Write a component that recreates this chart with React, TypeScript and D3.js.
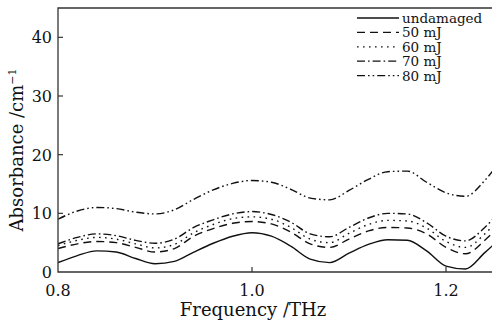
import { useEffect, useRef } from "react";
import * as d3 from "d3";

// frequency samples (THz)
const freq = [0.8, 0.82, 0.84, 0.86, 0.88, 0.9, 0.92, 0.94, 0.96, 0.98, 1.0, 1.02, 1.04, 1.06, 1.08, 1.1, 1.12, 1.14, 1.16, 1.18, 1.2, 1.22, 1.24, 1.25];

const undamaged = [1.6, 2.8, 3.6, 3.4, 2.3, 1.4, 1.8, 3.4, 4.9, 6.1, 6.7, 6.1, 4.4, 2.2, 1.6, 3.2, 4.7, 5.5, 5.4, 3.6, 1.0, 0.5, 3.3, 4.8];
const mj50 = [4.0, 4.8, 5.2, 5.0, 4.2, 3.4, 4.0, 6.1, 7.4, 8.3, 8.6, 8.2, 6.8, 4.8, 4.2, 5.6, 7.0, 7.6, 7.5, 6.5, 4.2, 3.1, 5.4, 7.0];
const mj60 = [4.5, 5.4, 5.9, 5.6, 4.8, 4.1, 4.7, 6.7, 8.1, 9.1, 9.4, 9.0, 7.6, 5.6, 5.0, 6.6, 8.1, 8.8, 8.7, 7.5, 5.2, 4.2, 6.5, 8.2];
const mj70 = [4.8, 5.9, 6.5, 6.2, 5.4, 4.9, 5.6, 7.6, 8.9, 9.9, 10.3, 9.8, 8.5, 6.5, 6.0, 7.6, 9.2, 10.0, 9.9, 8.4, 6.1, 5.3, 7.6, 9.3];
const mj80 = [9.0, 10.4, 11.0, 10.8, 10.2, 9.9, 10.6, 12.4, 14.0, 15.1, 15.6, 15.3, 14.1, 12.6, 12.3, 13.9, 15.8, 17.1, 17.2, 15.3, 13.5, 12.9, 15.6, 17.6];

const seriesNames = ["undamaged", "50 mJ", "60 mJ", "70 mJ", "80 mJ"];
const seriesValues = [undamaged, mj50, mj60, mj70, mj80];
const dashes = ["none", "8,5", "1.6,4.4", "8,3,1.6,3", "8,3,1.6,3,1.6,3"];

const xTicks = [0.8, 1.0, 1.2];
const yTicks = [0, 10, 20, 30, 40];

const W = 492;
const H = 327;
const FONT = "'DejaVu Serif', serif";

export default function App() {
  const ref = useRef<SVGSVGElement>(null);

  useEffect(() => {
    const svg = d3.select(ref.current);
    svg.selectAll("*").remove();

    const margin = { top: 8, right: 0, bottom: 55, left: 58 };
    const x = d3.scaleLinear().domain([0.8, 1.2]).range([margin.left, 446]);
    const y = d3.scaleLinear().domain([0, 45]).range([H - margin.bottom, margin.top]);

    svg.append("defs").append("clipPath").attr("id", "plot")
      .append("rect")
      .attr("x", margin.left).attr("y", margin.top)
      .attr("width", W - margin.left).attr("height", H - margin.bottom - margin.top);

    // lines
    const line = d3.line<number>()
      .x((_, i) => x(freq[i]))
      .y((d) => y(d))
      .curve(d3.curveMonotoneX);

    const g = svg.append("g").attr("clip-path", "url(#plot)");
    seriesValues.forEach((vals, i) => {
      g.append("path")
        .datum(vals)
        .attr("d", line)
        .attr("fill", "none")
        .attr("stroke", "#111")
        .attr("stroke-width", 1.4)
        .attr("stroke-dasharray", dashes[i]);
    });

    // frame
    const x0 = margin.left;
    const yb = H - margin.bottom;
    svg.append("path")
      .attr("d", `M${W},${margin.top}H${x0}V${yb}H${W}`)
      .attr("fill", "none")
      .attr("stroke", "#333")
      .attr("stroke-width", 1.3);

    // y ticks (inward)
    svg.selectAll("line.yt").data(yTicks.filter((t) => t > 0)).enter()
      .append("line")
      .attr("x1", x0).attr("x2", x0 + 5)
      .attr("y1", (d) => y(d)).attr("y2", (d) => y(d))
      .attr("stroke", "#333").attr("stroke-width", 1.2);

    svg.selectAll("text.yl").data(yTicks).enter()
      .append("text")
      .attr("x", x0 - 6)
      .attr("y", (d) => y(d) + 6)
      .attr("text-anchor", "end")
      .attr("font-family", FONT)
      .attr("font-size", 16)
      .attr("fill", "#111")
      .text((d) => d);

    // x ticks (inward)
    svg.selectAll("line.xt").data(xTicks.filter((t) => t > 0.8)).enter()
      .append("line")
      .attr("x1", (d) => x(d)).attr("x2", (d) => x(d))
      .attr("y1", yb).attr("y2", yb - 5)
      .attr("stroke", "#333").attr("stroke-width", 1.2);

    svg.selectAll("text.xl").data(xTicks).enter()
      .append("text")
      .attr("x", (d) => x(d))
      .attr("y", 296)
      .attr("text-anchor", "middle")
      .attr("font-family", FONT)
      .attr("font-size", 16)
      .attr("fill", "#111")
      .text((d) => d.toFixed(1));

    // axis titles
    svg.append("text")
      .attr("x", 253).attr("y", 316)
      .attr("text-anchor", "middle")
      .attr("font-family", FONT)
      .attr("font-size", 18)
      .attr("fill", "#111")
      .text("Frequency /THz");

    const yt = svg.append("text")
      .attr("transform", "translate(23,150) rotate(-90)")
      .attr("text-anchor", "middle")
      .attr("font-family", FONT)
      .attr("font-size", 18)
      .attr("fill", "#111");
    yt.append("tspan").text("Absorbance /cm");
    yt.append("tspan").attr("dy", -7).attr("font-size", 11).text("−1");

    // legend
    const leg = svg.append("g");
    seriesNames.forEach((name, i) => {
      const ly = 18 + i * 14.4;
      leg.append("line")
        .attr("x1", 357).attr("x2", 399)
        .attr("y1", ly).attr("y2", ly)
        .attr("stroke", "#111")
        .attr("stroke-width", 1.3)
        .attr("stroke-dasharray", dashes[i]);
      leg.append("text")
        .attr("x", 402).attr("y", ly + 5)
        .attr("font-family", FONT)
        .attr("font-size", 13.5)
        .attr("fill", "#111")
        .text(name);
    });
  }, []);

  return (
    <svg
      ref={ref}
      width={W}
      height={H}
      style={{ position: "absolute", left: 0, top: 0, background: "#fff" }}
    />
  );
}
